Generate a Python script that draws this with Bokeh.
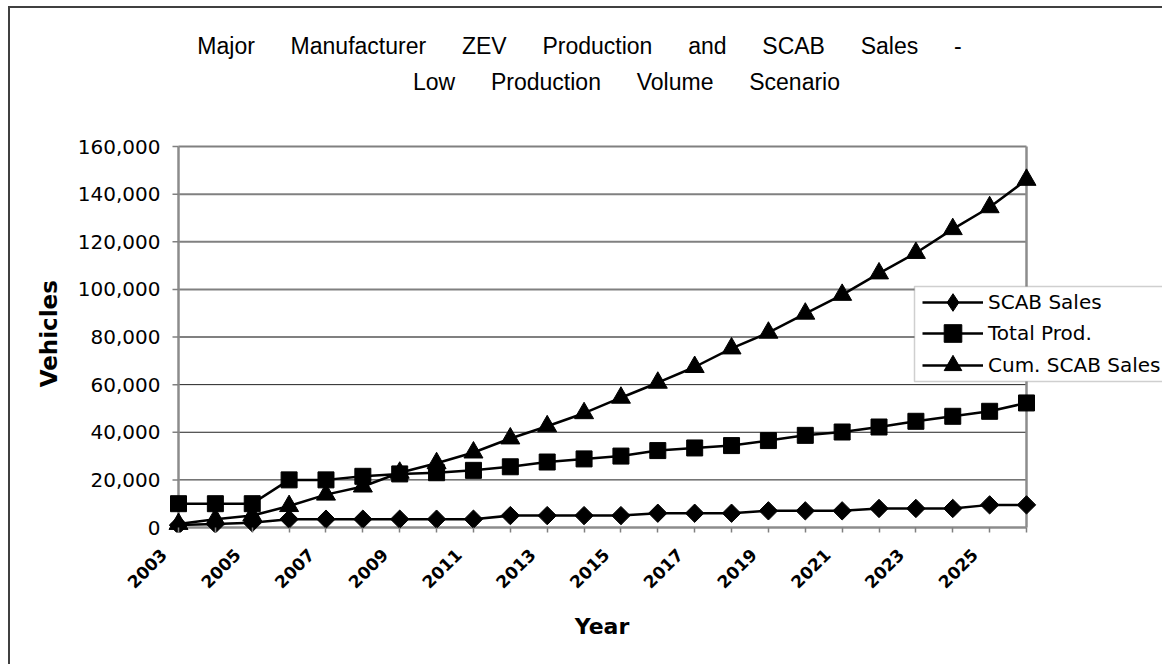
import math
from bokeh.plotting import figure
from bokeh.models import (Range1d, FixedTicker, Legend, LegendItem, LinearAxis,
                          NumeralTickFormatter, BoxAnnotation, Label)
from bokeh.embed import file_html
from bokeh.resources import INLINE

# ---------------- data ----------------
years = list(range(2003, 2027))
scab_sales = [1000, 1500, 2000, 3500, 3500, 3500, 3500, 3500, 3500, 5000, 5000, 5000,
              5000, 6000, 6000, 6000, 7000, 7000, 7000, 8000, 8000, 8000, 9500, 9500]
total_prod = [10000, 10000, 10000, 20000, 20000, 21500, 22500, 23000, 24000, 25500, 27500, 28800,
              30000, 32300, 33400, 34400, 36500, 38700, 40100, 42200, 44600, 46700, 48800, 52300]
cum_scab_sales = [1500, 3500, 5000, 9000, 13800, 17200, 23000, 27000, 31500, 37400, 42500, 48000,
                  54500, 60800, 67400, 75200, 81800, 89800, 97700, 106700, 115300, 125300, 134500, 146000]
y_ticks = [0, 20000, 40000, 60000, 80000, 100000, 120000, 140000, 160000]
labelled_years = [y for y in years if y % 2 == 1]
series_names = ["SCAB Sales", "Total Prod.", "Cum. SCAB Sales"]
title_lines = ["Major Manufacturer ZEV Production and SCAB Sales -",
               "Low Production Volume Scenario"]
x_title = "Year"
y_title = "Vehicles"

# ---------------- layout (page pixels) ----------------
PAGE_W, PAGE_H = 1164, 666
OX, OY = 10, 8                          # canvas origin on the page (after css border)
W, H = PAGE_W - OX, PAGE_H - OY
PA_L, PA_R, PA_T, PA_B = 178, 1026, 146, 527   # visible plot area (page px)
PAD_L, PAD_B = 18, 5
FL = PA_L - PAD_L - OX                  # frame left (canvas px)
FB = PA_B + PAD_B - OY                  # frame bottom (canvas px)
FRAME_LEFT_PAGE, FRAME_BOTTOM_PAGE = OX + FL, OY + FB

def sx(px):
    return px - FRAME_LEFT_PAGE

def sy(py):
    return FRAME_BOTTOM_PAGE - py

xu = (years[-1] - years[0]) / (PA_R - PA_L)
yu = (y_ticks[-1] - y_ticks[0]) / (PA_B - PA_T)

p = figure(width=W, height=H, output_backend="svg", toolbar_location=None,
           x_range=Range1d(years[0] - PAD_L * xu, years[-1] + (PAGE_W - PA_R) * xu),
           y_range=Range1d(y_ticks[0] - PAD_B * yu, y_ticks[-1] + (PA_T - OY) * yu),
           min_border_left=FL, min_border_right=0,
           min_border_top=0, min_border_bottom=H - FB)
p.styles = {"margin-left": "8px", "margin-top": "6px",
            "border-left": "2px solid #404040", "border-top": "2px solid #404040"}
p.outline_line_color = None
p.grid.visible = False
p.background_fill_color = "white"
p.border_fill_color = "white"

# title (two centred lines with wide word gaps)
gap = " \u2003 "
for line, cx, base in zip(title_lines, [579, 626], [45, 81]):
    p.add_layout(Label(x=sx(cx), y=sy(base), x_units="screen", y_units="screen",
                       text=gap.join(line.split(" ")), text_align="center",
                       text_baseline="alphabetic", text_font="Liberation Sans",
                       text_font_size="23px", text_color="black"))

# gridlines (upper ones grey, lower ones dark as in the original) and plot-area borders
gy_dark = [v for v in y_ticks[1:] if v <= 60000]
gy_grey = [v for v in y_ticks[1:] if v > 60000]
p.segment(x0=[years[0]] * len(gy_grey), y0=gy_grey, x1=[years[-1]] * len(gy_grey), y1=gy_grey,
          line_color="#808080", line_width=2)
p.segment(x0=[years[0]] * len(gy_dark), y0=gy_dark, x1=[years[-1]] * len(gy_dark), y1=gy_dark,
          line_color="#222222", line_width=1)
p.segment(x0=[years[0], years[-1], years[0]], y0=[y_ticks[0], y_ticks[0], y_ticks[0]],
          x1=[years[0], years[-1], years[-1]], y1=[y_ticks[-1], y_ticks[-1], y_ticks[0]],
          line_color="#8c8c8c", line_width=2.5)
# y tick marks (6 px outside the axis)
p.segment(x0=[years[0] - 6 * xu] * len(y_ticks), y0=y_ticks,
          x1=[years[0]] * len(y_ticks), y1=y_ticks, line_color="#808080", line_width=1.5)

# series
lw = 2.5
r1l = p.line(years, scab_sales, line_color="black", line_width=lw)
r1m = p.scatter(years, scab_sales, marker="square", angle=math.pi / 4, size=13, color="black")
r1leg = p.scatter(years, scab_sales, marker="diamond", size=18, color="black", visible=False)
r2l = p.line(years, total_prod, line_color="black", line_width=lw)
r2m = p.scatter(years, total_prod, marker="square", size=16, color="black")
r3l = p.line(years, cum_scab_sales, line_color="black", line_width=lw)
r3m = p.scatter(years, cum_scab_sales, marker="triangle", size=19, color="black")

# x axis: tick marks at every year
xa = p.xaxis[0]
xa.ticker = FixedTicker(ticks=years)
xa.major_label_overrides = {y: "" for y in years}
xa.major_label_standoff = 0
xa.axis_line_color = None
xa.major_tick_in = PAD_B
xa.major_tick_out = 0
xa.major_tick_line_color = "#808080"
xa.major_tick_line_width = 1.5
xa.minor_tick_line_color = None

# x axis: labels every other year, set slightly left of their ticks as in the original
shift = 15 * xu
xb = LinearAxis(ticker=FixedTicker(ticks=[y - shift for y in labelled_years]),
                formatter=NumeralTickFormatter(format="0"))
xb.axis_line_color = None
xb.major_tick_line_color = None
xb.minor_tick_line_color = None
xb.major_tick_in = 0
xb.major_tick_out = 0
xb.major_label_orientation = math.pi / 4
xb.major_label_text_font = "DejaVu Sans"
xb.major_label_text_font_style = "bold"
xb.major_label_text_font_size = "17px"
xb.major_label_text_color = "black"
xb.major_label_standoff = 19
xb.axis_label = x_title + "\u2003" * 5 + "\u2002"
xb.axis_label_text_font = "DejaVu Sans"
xb.axis_label_text_font_style = "bold"
xb.axis_label_text_font_size = "22px"
xb.axis_label_text_color = "black"
xb.axis_label_standoff = 17
p.add_layout(xb, "below")

ya = p.yaxis[0]
ya.ticker = FixedTicker(ticks=y_ticks)
ya.formatter = NumeralTickFormatter(format="0,0")
ya.axis_line_color = None
ya.major_tick_line_color = None
ya.major_tick_in = 0
ya.major_tick_out = 0
ya.minor_tick_line_color = None
ya.major_label_text_font = "DejaVu Sans"
ya.major_label_text_font_size = "20px"
ya.major_label_text_color = "black"
ya.major_label_standoff = 0
ya.axis_label = y_title + "\u2003" * 5 + "\u2002"
ya.axis_label_text_font = "DejaVu Sans"
ya.axis_label_text_font_style = "bold"
ya.axis_label_text_font_size = "23px"
ya.axis_label_text_color = "black"
ya.axis_label_standoff = 13

# legend box
p.add_layout(BoxAnnotation(left=sx(914), right=sx(1300), top=sy(286), bottom=sy(381),
                           left_units="screen", right_units="screen",
                           top_units="screen", bottom_units="screen",
                           fill_color="white", fill_alpha=1.0,
                           line_color="#606060", line_width=1.5))

# one legend per row so rows can be spaced like the original
items = [(series_names[0], [r1l, r1leg], 301.7),
         (series_names[1], [r2l, r2m], 332.7),
         (series_names[2], [r3l, r3m], 364.5)]
GH = 44
for name, rends, cy in items:
    p.add_layout(Legend(items=[LegendItem(label=name, renderers=rends)],
                        location=(sx(922), sy(cy + GH / 2)),
                        orientation="vertical", glyph_width=61, glyph_height=GH,
                        spacing=0, padding=0, margin=0, label_standoff=5,
                        label_text_font="DejaVu Sans", label_text_font_size="20px",
                        label_text_color="black",
                        border_line_color=None, background_fill_alpha=0))

open("out.html", "w").write(file_html(p, INLINE))
